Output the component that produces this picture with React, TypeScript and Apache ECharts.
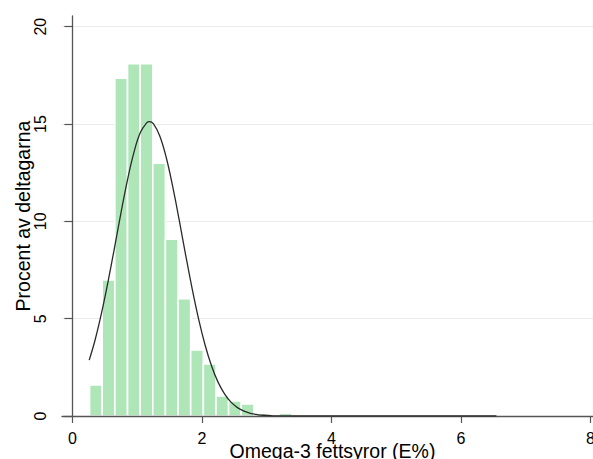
import React, { useEffect, useRef } from "react";
import * as echarts from "echarts";

// Histogram bins (left edges, E%) and their share of participants (%)
const binLefts = [0.266, 0.461, 0.656, 0.852, 1.047, 1.242, 1.437, 1.632, 1.828, 2.023, 2.218, 2.413, 2.608, 2.804, 2.999, 3.194];
const binWidth = 0.1952;
const binPercent = [1.59, 6.99, 17.35, 18.1, 18.1, 12.99, 9.08, 6.03, 3.39, 2.67, 1.03, 0.77, 0.62, 0.14, 0.07, 0.15];

// Fitted curve
const curveX = [0.26, 0.35, 0.45, 0.55, 0.65, 0.75, 0.85, 0.95, 1.05, 1.15, 1.19, 1.25, 1.35, 1.45, 1.55, 1.65, 1.75, 1.85, 1.95, 2.05, 2.15, 2.25, 2.35, 2.45, 2.55, 2.65, 2.75, 2.85, 2.95, 3.1, 3.3, 3.6, 6.55];
const curveY = [2.87, 3.89, 5.28, 6.88, 8.63, 10.42, 12.11, 13.53, 14.56, 15.07, 15.12, 15.02, 14.39, 13.28, 11.78, 10.07, 8.27, 6.54, 4.98, 3.65, 2.57, 1.74, 1.14, 0.71, 0.43, 0.25, 0.14, 0.076, 0.039, 0.01, 0.003, 0, 0];

const xTicks = [0, 2, 4, 6, 8];
const yTicks = [0, 5, 10, 15, 20];

const xTitle = "Omega-3 fettsyror (E%)";
const yTitle = "Procent av deltagarna";

const FONT = "'Liberation Sans', Arial, sans-serif";

export default function App() {
  const ref = useRef<HTMLDivElement>(null);
  useEffect(() => {
    if (!ref.current) return;
    const chart = echarts.init(ref.current, null, { renderer: "svg" });
    const barData = binLefts.map((l, i) => [l, l + binWidth, binPercent[i]]);
    const lineData = curveX.map((x, i) => [x, curveY[i]]);
    chart.setOption({
      animation: false,
      backgroundColor: "#ffffff",
      grid: { left: 62, right: 0, top: 16, bottom: 43, containLabel: false, outerBoundsMode: "none" },
      xAxis: {
        type: "value",
        min: -0.16,
        max: 8.041,
        z: 5,
        name: xTitle,
        nameLocation: "middle",
        nameGap: 25,
        nameMoveOverlap: false,
        nameTextStyle: { fontSize: 19.5, color: "#000", fontFamily: FONT, padding: [0, 0, 0, 10] },
        axisLine: { show: true, onZero: false, lineStyle: { color: "#555", width: 1.3 } },
        axisTick: { show: true, length: 7, customValues: xTicks, lineStyle: { color: "#555", width: 1.2 } },
        axisLabel: { customValues: xTicks, fontSize: 16, color: "#000", fontFamily: FONT, margin: 14 },
        splitLine: { show: false },
      },
      yAxis: {
        type: "value",
        min: 0,
        max: 20.55,
        name: yTitle,
        nameLocation: "middle",
        nameGap: 29,
        nameMoveOverlap: false,
        nameTextStyle: { fontSize: 19.5, color: "#000", fontFamily: FONT },
        axisLine: { show: true, lineStyle: { color: "#555", width: 1.3 } },
        axisTick: { show: true, length: 8, customValues: yTicks, lineStyle: { color: "#555", width: 1.2 } },
        axisLabel: { customValues: yTicks, rotate: 90, fontSize: 16, color: "#000", fontFamily: FONT, margin: 14 },
        splitLine: { show: true, lineStyle: { color: "#ebebeb", width: 1 } },
      },
      series: [
        {
          type: "custom",
          z: 2,
          data: barData,
          encode: { x: [0, 1], y: 2 },
          renderItem: (params: any, api: any) => {
            const p0 = api.coord([api.value(0), api.value(2)]);
            const p1 = api.coord([api.value(1), 0]);
            return {
              type: "rect",
              shape: { x: p0[0], y: p0[1], width: p1[0] - p0[0], height: p1[1] - p0[1] },
              style: { fill: "#afe6b8", stroke: "#ffffff", lineWidth: 1.6 },
            };
          },
        },
        {
          type: "line",
          z: 6,
          data: lineData,
          showSymbol: false,
          smooth: 0.4,
          lineStyle: { color: "#2a2a2a", width: 1.3 },
        },
      ],
    });
    return () => chart.dispose();
  }, []);
  return (
    <div
      ref={ref}
      style={{ position: "fixed", left: 0, top: 0, width: 593, height: 459, background: "#fff" }}
    />
  );
}
